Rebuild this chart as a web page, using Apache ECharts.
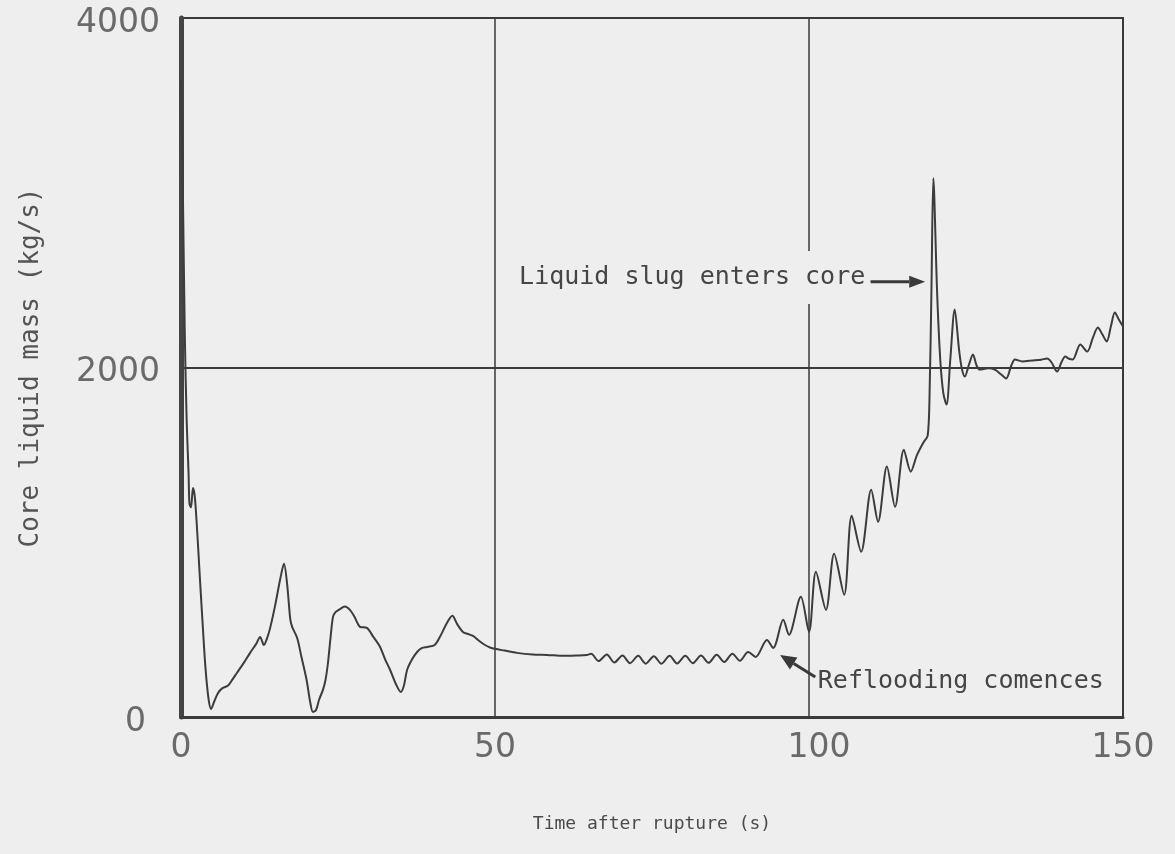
<!DOCTYPE html>
<html>
<head>
<meta charset="utf-8">
<script src="https://cdn.jsdelivr.net/npm/echarts@6/dist/echarts.min.js"></script>
<style>
  html, body { margin: 0; padding: 0; background: #eeeeee; }
  #chart { width: 1175px; height: 854px; }
</style>
</head>
<body>
<div id="chart"></div>
<script>
// Time after rupture, seconds
const timeS = [
  0, 0.3, 0.6, 0.9, 1.2, 1.35, 1.6, 1.9, 2.2, 2.6, 3.0, 3.4, 3.9, 4.4, 4.8,
  5.3, 5.9, 6.6, 7.5, 8.2, 8.9, 10, 11, 12, 12.6, 13.2, 13.7, 14.2, 15, 15.8,
  16.4, 16.9, 17.4, 17.7, 18.5, 19.2, 20, 20.6, 21, 21.5, 22, 22.6, 23.0, 23.4, 23.8,
  24.2, 24.6, 25.2, 26.1, 26.9, 27.6, 28.5, 29.6, 30.6, 31.7, 32.5, 33.3, 34.2, 35,
  35.5, 36, 36.8, 37.6, 38.4, 39.2, 40.4, 41.4, 42.3, 43.2, 44.0, 44.9, 45.7, 46.5,
  47.5, 48.4, 49.2, 50, 51.5, 53.5, 56, 58.3, 61, 63, 64.6,
  65.3, 66.5, 67.8, 69.0, 70.3, 71.5, 72.8, 74.0, 75.3, 76.5, 77.8, 79.0, 80.3,
  81.5, 82.8, 84.0, 85.3, 86.5, 87.8, 89.0, 90.3, 91.5,
  93.3, 94.3, 95.9, 96.8, 98.7, 100, 101.1, 102.7, 104, 105.6, 106.8, 108.3,
  109.9, 111, 112.4, 113.7, 115.1, 116.2, 117.2, 118.2, 118.9, 119.2, 119.5, 119.8,
  120.4, 120.9, 121.4, 121.9, 122.5, 123.2, 123.9, 124.3, 124.8, 125.5, 126.1,
  126.7, 127.2, 128.5, 129.6, 130.6, 131.4, 132.2, 132.8, 134, 135.5, 137, 137.9,
  138.6, 139.5, 140.2, 140.8, 141.4, 142, 143.2, 144.3, 145.2, 146, 146.7, 147.4,
  148.1, 148.7, 149.4, 150
];

// Core liquid mass, kg/s
const liquidMass = [
  3650, 3000, 2200, 1700, 1400, 1220, 1200, 1310, 1260, 1050, 800, 560, 280, 100, 46,
  90, 137, 165, 180, 215, 252, 310, 367, 420, 458, 412, 450, 510, 640, 790,
  877, 760, 560, 516, 452, 340, 212, 80, 29, 40, 100, 155, 210, 309, 450,
  573, 600, 615, 632, 613, 575, 516, 510, 460, 401, 330, 269, 190, 143,
  180, 269, 330, 372, 395, 401, 412, 470, 535, 579, 530, 487, 475, 464,
  435, 412, 398, 390, 380, 367, 358, 355, 350, 352, 355,
  362, 320, 358, 312, 352, 308, 350, 305, 348, 305, 350, 306, 350,
  308, 352, 310, 356, 315, 362, 322, 372, 344,
  441, 395, 556, 470, 688, 487, 831, 613, 934, 699, 1152, 946,
  1301, 1117, 1433, 1203, 1530, 1404, 1500, 1570, 1610, 1850, 2450, 3083,
  2430, 2046, 1850, 1788, 2046, 2332, 2100, 2000, 1948, 2020, 2074,
  2010, 1988, 1995, 1988, 1960, 1937, 2010, 2046, 2035, 2040, 2045, 2051,
  2030, 1977, 2030, 2063, 2050, 2046, 2132, 2091, 2170, 2229, 2190, 2149,
  2240, 2315, 2270, 2235
];

const xTicks = [0, 50, 100, 150];
const yTicks = [0, 2000, 4000];
const xTitle = 'Time after rupture (s)';
const yTitle = 'Core liquid mass (kg/s)';
const slugNote = 'Liquid slug enters core';
const refloodNote = 'Reflooding comences';

const ink = '#3a3a3a';
const paper = '#eeeeee';
const tickFont = '"DejaVu Sans", sans-serif';
const monoFont = '"DejaVu Sans Mono", monospace';

const chart = echarts.init(document.getElementById('chart'), null, { renderer: 'canvas' });

chart.setOption({
  backgroundColor: paper,
  animation: false,
  grid: {
    left: 181, right: 52, top: 18, bottom: 137,
    outerBoundsMode: 'none',
    containLabel: false,
    show: true, borderColor: ink, borderWidth: 2, backgroundColor: 'transparent'
  },
  xAxis: {
    type: 'value',
    min: xTicks[0], max: xTicks[xTicks.length - 1], interval: 50,
    name: xTitle, nameLocation: 'middle', nameGap: 98,
    nameTextStyle: { fontFamily: monoFont, fontSize: 18, color: '#4a4a4a' },
    axisLine: { show: true, lineStyle: { color: ink, width: 3 } },
    axisTick: { show: false },
    axisLabel: {
      margin: 15,
      color: '#6a6a6a', fontFamily: tickFont, fontSize: 33,
      formatter: v => (v === 100 ? '{shift|' + v + '}' : String(v)),
      rich: { shift: { fontFamily: tickFont, fontSize: 33, color: '#6a6a6a', padding: [0, 0, 0, 20] } }
    },
    splitLine: { show: true, lineStyle: { color: ink, width: 1.5 } }
  },
  yAxis: {
    type: 'value',
    min: yTicks[0], max: yTicks[yTicks.length - 1], interval: 2000,
    name: yTitle, nameLocation: 'middle', nameGap: 137, nameRotate: 90,
    nameTextStyle: { fontFamily: monoFont, fontSize: 26, color: '#555555' },
    axisLine: { show: true, lineStyle: { color: '#444444', width: 5 } },
    axisTick: { show: false },
    axisLabel: {
      margin: 21,
      padding: [10, 0, 0, 0],
      color: '#6a6a6a', fontFamily: tickFont, fontSize: 33,
      formatter: v => (v === 0 ? '{pad|0}' : String(v)),
      rich: { pad: { fontFamily: tickFont, fontSize: 33, color: '#6a6a6a', padding: [0, 14, 0, 0] } }
    },
    splitLine: { show: true, lineStyle: { color: ink, width: 2 } }
  },
  series: [{
    type: 'line',
    data: timeS.map((t, i) => [t, liquidMass[i]]),
    showSymbol: false,
    smooth: 0.3,
    lineStyle: { color: '#3c3c3c', width: 2 },
    z: 3
  }]
});

// Annotation text and arrows, anchored in data coordinates
function px(t, v) { return chart.convertToPixel({ xAxisIndex: 0, yAxisIndex: 0 }, [t, v]); }

function arrow(from, to, head, half) {
  const dx = to[0] - from[0], dy = to[1] - from[1];
  const len = Math.hypot(dx, dy);
  const ux = dx / len, uy = dy / len;
  const bx = to[0] - ux * head, by = to[1] - uy * head;
  return [
    { type: 'line', z: 20, shape: { x1: from[0], y1: from[1], x2: bx, y2: by },
      style: { stroke: '#3a3a3a', lineWidth: 3 } },
    { type: 'polygon', z: 20,
      shape: { points: [to, [bx - uy * half, by + ux * half], [bx + uy * half, by - ux * half]] },
      style: { fill: '#3a3a3a' } }
  ];
}

const slugText = px(53.2, 2515);
const slugTail = px(109.8, 2490);
const slugTip = px(118.5, 2490);
const refText = px(101.4, 206);
const refTail = px(101.0, 229);
const refTip = px(95.4, 355);

chart.setOption({
  graphic: [
    { type: 'text', z: 15, x: slugText[0], y: slugText[1],
      style: { text: slugNote, font: '25px ' + monoFont, fill: '#454545',
               textAlign: 'left', textVerticalAlign: 'middle',
               backgroundColor: paper, padding: [14, 4, 14, 4] } },
    { type: 'text', z: 15, x: refText[0], y: refText[1],
      style: { text: refloodNote, font: '25px ' + monoFont, fill: '#454545',
               textAlign: 'left', textVerticalAlign: 'middle' } },
    ...arrow(slugTail, slugTip, 16, 6),
    ...arrow(refTail, refTip, 16, 7)
  ]
});
</script>
</body>
</html>
